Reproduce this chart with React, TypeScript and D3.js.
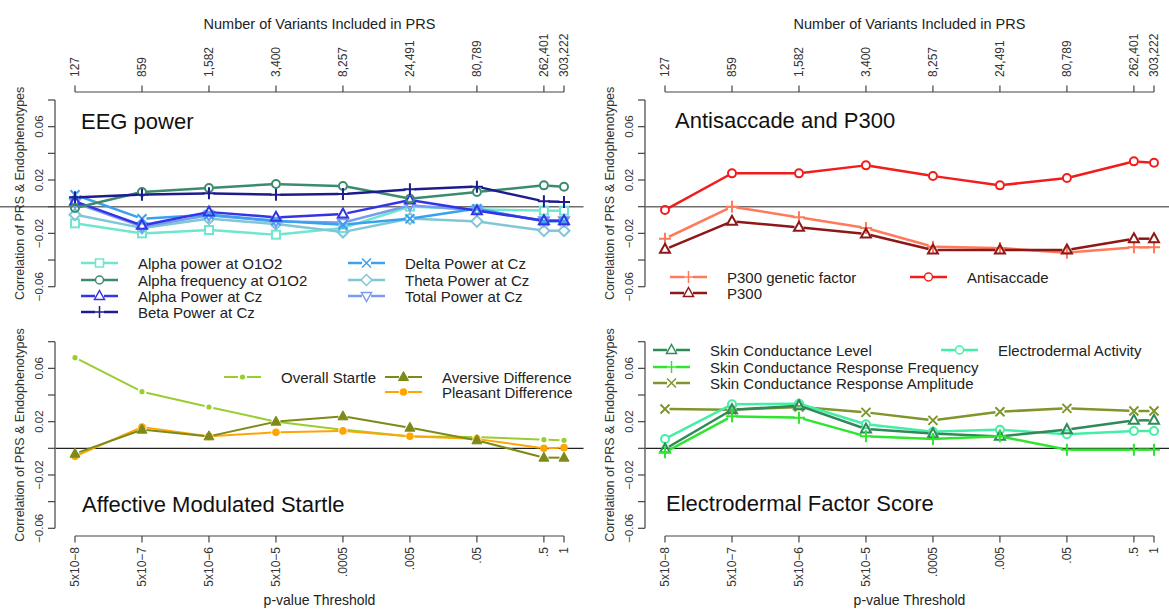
import React from 'react';
import * as d3 from 'd3';

// ---------- axis data ----------
const pThresholds = ['5x10−8', '5x10−7', '5x10−6', '5x10−5', '.0005', '.005', '.05', '.5', '1'];
const variantCounts = ['127', '859', '1,582', '3,400', '8,257', '24,491', '80,789', '262,401', '303,222'];
const xIndex = [1, 2, 3, 4, 5, 6, 7, 8, 8.3];
const yTicks = [-0.06, -0.04, -0.02, 0, 0.02, 0.04, 0.06, 0.08];
const yTickLabels = ['−0.06', '', '−0.02', '', '0.02', '', '0.06', ''];

// ---------- EEG power ----------
const alphaPowerO1O2 = [-0.0125, -0.02, -0.0175, -0.021, -0.016, 0.0, -0.002, -0.003, -0.003];
const alphaFreqO1O2 = [-0.001, 0.011, 0.014, 0.017, 0.0155, 0.006, 0.011, 0.016, 0.015];
const alphaPowerCz = [0.004, -0.014, -0.004, -0.008, -0.0055, 0.005, -0.003, -0.0105, -0.0105];
const betaPowerCz = [0.007, 0.009, 0.010, 0.009, 0.0095, 0.013, 0.015, 0.004, 0.0035];
const deltaPowerCz = [0.009, -0.009, -0.006, -0.0105, -0.0135, -0.009, -0.0015, -0.011, -0.011];
const thetaPowerCz = [-0.006, -0.016, -0.009, -0.013, -0.019, -0.009, -0.011, -0.018, -0.018];
const totalPowerCz = [0.003, -0.015, -0.0065, -0.011, -0.012, 0.001, -0.0025, -0.0105, -0.0105];

// ---------- Antisaccade and P300 ----------
const antisaccade = [-0.0025, 0.025, 0.025, 0.031, 0.023, 0.016, 0.0215, 0.034, 0.033];
const p300Genetic = [-0.024, 0.0, -0.008, -0.016, -0.030, -0.031, -0.0345, -0.0305, -0.0305];
const p300 = [-0.032, -0.011, -0.0155, -0.0205, -0.0325, -0.0325, -0.0325, -0.024, -0.024];

// ---------- Affective Modulated Startle ----------
const overallStartle = [0.068, 0.0425, 0.031, 0.020, 0.014, 0.009, 0.0085, 0.0065, 0.006];
const aversiveDiff = [-0.004, 0.014, 0.009, 0.020, 0.024, 0.0155, 0.006, -0.007, -0.007];
const pleasantDiff = [-0.006, 0.016, 0.009, 0.012, 0.013, 0.009, 0.007, 0.0, 0.0005];

// ---------- Electrodermal Factor Score ----------
const sclLevel = [-0.0005, 0.029, 0.032, 0.0145, 0.011, 0.009, 0.014, 0.021, 0.021];
const scrFrequency = [-0.003, 0.024, 0.023, 0.009, 0.007, 0.009, -0.001, -0.001, -0.001];
const scrAmplitude = [0.0295, 0.029, 0.031, 0.027, 0.021, 0.0275, 0.030, 0.028, 0.028];
const edaActivity = [0.007, 0.033, 0.0335, 0.018, 0.0125, 0.014, 0.0105, 0.013, 0.013];

type Series = { name: string; values: number[]; color: string; shape: string; lx: number; ly: number };
type Panel = {
  dx: number;
  top: boolean;
  title: string;
  titleX: number;
  titleY: number;
  lw: number;
  zeroFrom: number;
  zeroColor: string;
  series: Series[];
};

const FONT = '"Liberation Sans", Arial, Helvetica, sans-serif';

const panels: Panel[] = [
  {
    dx: 0, top: true, title: 'EEG power', titleX: 81, titleY: 129, lw: 2.5, zeroFrom: 0, zeroColor: '#6f6f6f',
    series: [
      { name: 'Alpha power at O1O2', values: alphaPowerO1O2, color: '#6fe6cf', shape: 'square', lx: 81, ly: 263 },
      { name: 'Theta Power at Cz', values: thetaPowerCz, color: '#80c6d6', shape: 'diamond', lx: 348, ly: 280 },
      { name: 'Total Power at Cz', values: totalPowerCz, color: '#7a9cf0', shape: 'triDown', lx: 348, ly: 296 },
      { name: 'Delta Power at Cz', values: deltaPowerCz, color: '#3aa0f0', shape: 'cross', lx: 348, ly: 263 },
      { name: 'Alpha Power at Cz', values: alphaPowerCz, color: '#3434e6', shape: 'triangle', lx: 81, ly: 296 },
      { name: 'Alpha frequency at O1O2', values: alphaFreqO1O2, color: '#3c8c6c', shape: 'circle', lx: 81, ly: 280 },
      { name: 'Beta Power at Cz', values: betaPowerCz, color: '#1c1c8e', shape: 'plus', lx: 81, ly: 312 },
    ],
  },
  {
    dx: 590, top: true, title: 'Antisaccade and P300', titleX: 675, titleY: 128, lw: 2.5, zeroFrom: 645.5, zeroColor: '#6f6f6f',
    series: [
      { name: 'P300 genetic factor', values: p300Genetic, color: '#ff7a5a', shape: 'plus', lx: 670, ly: 277 },
      { name: 'P300', values: p300, color: '#8e1818', shape: 'triangle', lx: 670, ly: 293 },
      { name: 'Antisaccade', values: antisaccade, color: '#f21c1c', shape: 'circle', lx: 910, ly: 277 },
    ],
  },
  {
    dx: 0, top: false, title: 'Affective Modulated Startle', titleX: 82, titleY: 512, lw: 2, zeroFrom: 55.5, zeroColor: '#222',
    series: [
      { name: 'Overall Startle', values: overallStartle, color: '#9acd32', shape: 'dot', lx: 224, ly: 377 },
      { name: 'Pleasant Difference', values: pleasantDiff, color: '#ffa500', shape: 'circleFill', lx: 385, ly: 392 },
      { name: 'Aversive Difference', values: aversiveDiff, color: '#7d8a18', shape: 'triFill', lx: 385, ly: 377 },
    ],
  },
  {
    dx: 590, top: false, title: 'Electrodermal Factor Score', titleX: 666, titleY: 511, lw: 2.5, zeroFrom: 645.5, zeroColor: '#222',
    series: [
      { name: 'Skin Conductance Response Amplitude', values: scrAmplitude, color: '#7f962a', shape: 'cross', lx: 653, ly: 383 },
      { name: 'Electrodermal Activity', values: edaActivity, color: '#45eea6', shape: 'circle', lx: 941, ly: 350 },
      { name: 'Skin Conductance Level', values: sclLevel, color: '#2e8b57', shape: 'triangle', lx: 653, ly: 350 },
      { name: 'Skin Conductance Response Frequency', values: scrFrequency, color: '#2ee62e', shape: 'plus', lx: 653, ly: 367 },
    ],
  },
];

function Marker({ shape, x, y, color, sw }: { shape: string; x: number; y: number; color: string; sw: number }) {
  const common = { fill: 'none', stroke: color, strokeWidth: sw };
  switch (shape) {
    case 'square':
      return <rect x={x - 4} y={y - 4} width={8} height={8} {...common} />;
    case 'circle':
      return <circle cx={x} cy={y} r={4} {...common} />;
    case 'triangle':
      return <path d={`M${x},${y - 5.5}L${x + 5},${y + 3.5}L${x - 5},${y + 3.5}Z`} {...common} />;
    case 'triDown':
      return <path d={`M${x},${y + 5.5}L${x + 5},${y - 3.5}L${x - 5},${y - 3.5}Z`} {...common} />;
    case 'plus':
      return <path d={`M${x - 6},${y}H${x + 6}M${x},${y - 6}V${y + 6}`} {...common} />;
    case 'cross':
      return <path d={`M${x - 4.5},${y - 4.5}L${x + 4.5},${y + 4.5}M${x - 4.5},${y + 4.5}L${x + 4.5},${y - 4.5}`} {...common} />;
    case 'diamond':
      return <path d={`M${x},${y - 5.5}L${x + 5.5},${y}L${x},${y + 5.5}L${x - 5.5},${y}Z`} {...common} />;
    case 'dot':
      return <circle cx={x} cy={y} r={2.6} fill={color} stroke="none" />;
    case 'triFill':
      return <path d={`M${x},${y - 5.5}L${x + 5},${y + 3.5}L${x - 5},${y + 3.5}Z`} fill={color} stroke={color} strokeWidth={1} />;
    case 'circleFill':
      return <circle cx={x} cy={y} r={3.8} fill={color} stroke="none" />;
    default:
      return null;
  }
}

function gapSegment(x0: number, y0: number, x1: number, y1: number, gap: number) {
  const dx = x1 - x0;
  const dy = y1 - y0;
  const d = Math.hypot(dx, dy);
  if (d <= 2 * gap) return null;
  const ux = dx / d;
  const uy = dy / d;
  return [x0 + ux * gap, y0 + uy * gap, x1 - ux * gap, y1 - uy * gap];
}

function PanelView({ p }: { p: Panel }) {
  const x = d3.scaleLinear().domain([1, 8.3]).range([75 + p.dx, 564 + p.dx]);
  const y = p.top
    ? d3.scaleLinear().domain([-0.06, 0.08]).range([286.7, 100])
    : d3.scaleLinear().domain([-0.06, 0.08]).range([528.3, 341.7]);
  const axisX = 55 + p.dx;
  const plotRight = 583.5 + p.dx;
  const yMid = (y(-0.06) + y(0.08)) / 2;
  const xMid = (55.5 + 583.5) / 2 + p.dx;
  const axisColor = '#444';
  const gap = 4.5;
  const xAxisY = p.top ? 92 : 536;

  return (
    <g>
      {/* zero line */}
      <line x1={p.zeroFrom} x2={Math.min(plotRight, 1169)} y1={y(0)} y2={y(0)} stroke={p.zeroColor} strokeWidth={1.4} />

      {/* y axis */}
      <line x1={axisX} x2={axisX} y1={y(-0.06)} y2={y(0.08)} stroke={axisColor} strokeWidth={1.2} />
      {yTicks.map((t, i) => (
        <g key={i}>
          <line x1={axisX - 7} x2={axisX} y1={y(t)} y2={y(t)} stroke={axisColor} strokeWidth={1.2} />
          {yTickLabels[i] && (
            <text
              transform={`translate(${axisX - 16},${y(t)}) rotate(-90)`}
              textAnchor="middle"
              dominantBaseline="central"
              fontSize={11.5}
              fill="#333"
            >
              {yTickLabels[i]}
            </text>
          )}
        </g>
      ))}
      <text
        transform={`translate(${20 + p.dx},${yMid}) rotate(-90)`}
        textAnchor="middle"
        dominantBaseline="central"
        fontSize={12.5}
        fill="#333"
      >
        Correlation of PRS &amp; Endophenotypes
      </text>

      {/* x axis */}
      <line x1={x(1)} x2={x(8.3)} y1={xAxisY} y2={xAxisY} stroke={axisColor} strokeWidth={1.2} />
      {xIndex.map((v, i) => (
        <g key={i}>
          <line
            x1={x(v)}
            x2={x(v)}
            y1={xAxisY}
            y2={p.top ? xAxisY - 6.5 : xAxisY + 6.5}
            stroke={axisColor}
            strokeWidth={1.2}
          />
          {p.top ? (
            <text
              transform={`translate(${x(v)},${xAxisY - 15}) rotate(-90)`}
              textAnchor="start"
              dominantBaseline="central"
              fontSize={12}
              fill="#333"
            >
              {variantCounts[i]}
            </text>
          ) : (
            <text
              transform={`translate(${x(v)},${xAxisY + 11}) rotate(-90)`}
              textAnchor="end"
              dominantBaseline="central"
              fontSize={12}
              fill="#333"
            >
              {pThresholds[i]}
            </text>
          )}
        </g>
      ))}
      {p.top ? (
        <text x={xMid} y={29} textAnchor="middle" fontSize={14.5} fill="#222">
          Number of Variants Included in PRS
        </text>
      ) : (
        <text x={xMid} y={604.5} textAnchor="middle" fontSize={14} fill="#222">
          p-value Threshold
        </text>
      )}

      {/* panel title */}
      <text x={p.titleX} y={p.titleY} fontSize={22} fill="#111">
        {p.title}
      </text>

      {/* series */}
      {p.series.map((s) => (
        <g key={s.name}>
          {s.values.slice(1).map((v, i) => {
            const seg = gapSegment(x(xIndex[i]), y(s.values[i]), x(xIndex[i + 1]), y(v), gap);
            if (!seg) return null;
            return (
              <line
                key={i}
                x1={seg[0]}
                y1={seg[1]}
                x2={seg[2]}
                y2={seg[3]}
                stroke={s.color}
                strokeWidth={p.lw}
              />
            );
          })}
          {s.values.map((v, i) => (
            <Marker key={i} shape={s.shape} x={x(xIndex[i])} y={y(v)} color={s.color} sw={2} />
          ))}
        </g>
      ))}

      {/* legend */}
      {p.series.map((s) => {
        const mx = s.lx + 18.5;
        return (
          <g key={'lg' + s.name}>
            <line x1={s.lx} x2={mx - gap} y1={s.ly} y2={s.ly} stroke={s.color} strokeWidth={p.lw} />
            <line x1={mx + gap} x2={s.lx + 37} y1={s.ly} y2={s.ly} stroke={s.color} strokeWidth={p.lw} />
            <Marker shape={s.shape} x={mx} y={s.ly} color={s.color} sw={1.5} />
            <text x={s.lx + 57} y={s.ly} dominantBaseline="central" fontSize={15} fill="#222">
              {s.name}
            </text>
          </g>
        );
      })}
    </g>
  );
}

export default function App() {
  return (
    <svg
      width={1169}
      height={610}
      viewBox="0 0 1169 610"
      style={{ position: 'absolute', left: 0, top: 0, background: '#fff', fontFamily: FONT }}
    >
      <rect x={0} y={0} width={1169} height={610} fill="#fff" />
      {panels.map((p, i) => (
        <PanelView key={i} p={p} />
      ))}
    </svg>
  );
}
